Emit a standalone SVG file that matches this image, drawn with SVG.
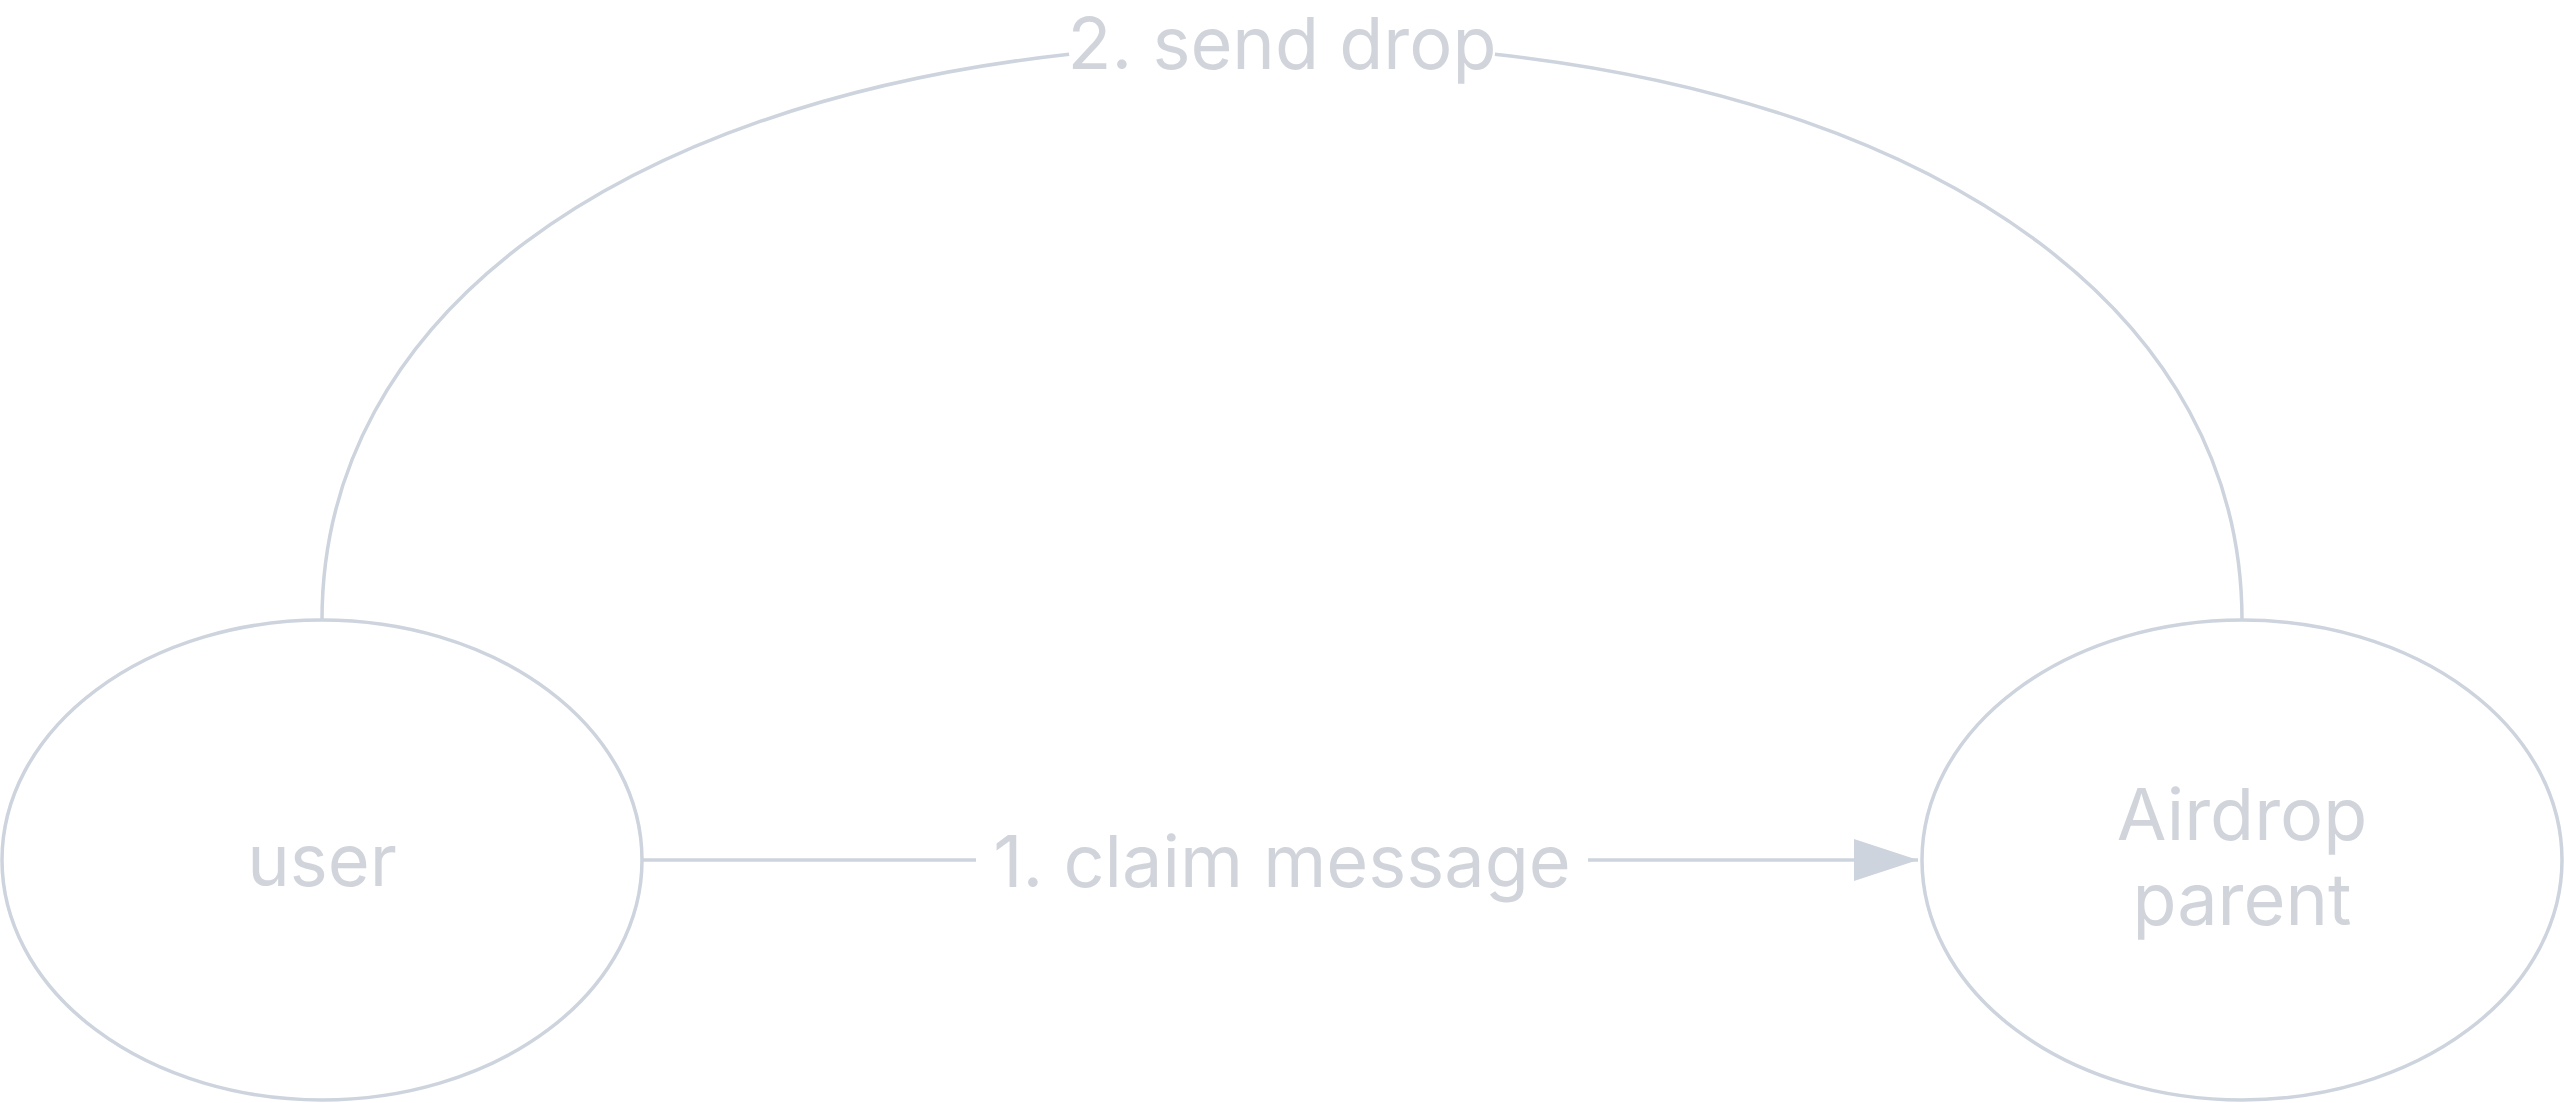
<svg xmlns="http://www.w3.org/2000/svg" width="2564" height="1103" viewBox="0 0 2564 1103">
  <style>
    .node { fill: #ffffff; stroke: #cdd4dd; stroke-width: 3.5; }
    .edge { fill: none; stroke: #cdd4dd; stroke-width: 3.5; }
    .label { font-family: Inter, "Noto Sans", "Liberation Sans", sans-serif; font-size: 72px; fill: #d1d5db; text-anchor: middle; }
  </style>
  <defs>
    <marker id="arrow" viewBox="0 0 64 42" refX="64" refY="21" markerWidth="64" markerHeight="42" markerUnits="userSpaceOnUse" orient="auto">
      <path d="M0,0 L64,21 L0,42 Z" fill="#cdd4dd"/>
    </marker>
  </defs>
  <rect x="0" y="0" width="2564" height="1103" fill="#ffffff"/>
  <g id="connectors">
    <g id="edge-send-drop">
      <path class="edge" d="M322,620 C322,318.6 613.3,104.5 1069.1,54.2"/>
      <path class="edge" d="M1494.9,54.2 C1950.7,104.5 2242,318.6 2242,620"/>
      <text class="label" x="1282" y="69">2. send drop</text>
    </g>
    <g id="edge-claim-message">
      <path class="edge" d="M642,860 L976,860"/>
      <path class="edge" d="M1588,860 L1918,860" marker-end="url(#arrow)"/>
      <text class="label" x="1282" y="887">1. claim message</text>
    </g>
  </g>
  <g id="node-user">
    <ellipse class="node" cx="322" cy="860" rx="320" ry="240"/>
    <text class="label" x="322" y="886">user</text>
  </g>
  <g id="node-airdrop-parent">
    <ellipse class="node" cx="2242" cy="860" rx="320" ry="240"/>
    <text class="label" x="2242" y="840">Airdrop</text>
    <text class="label" x="2242" y="925">parent</text>
  </g>
</svg>
